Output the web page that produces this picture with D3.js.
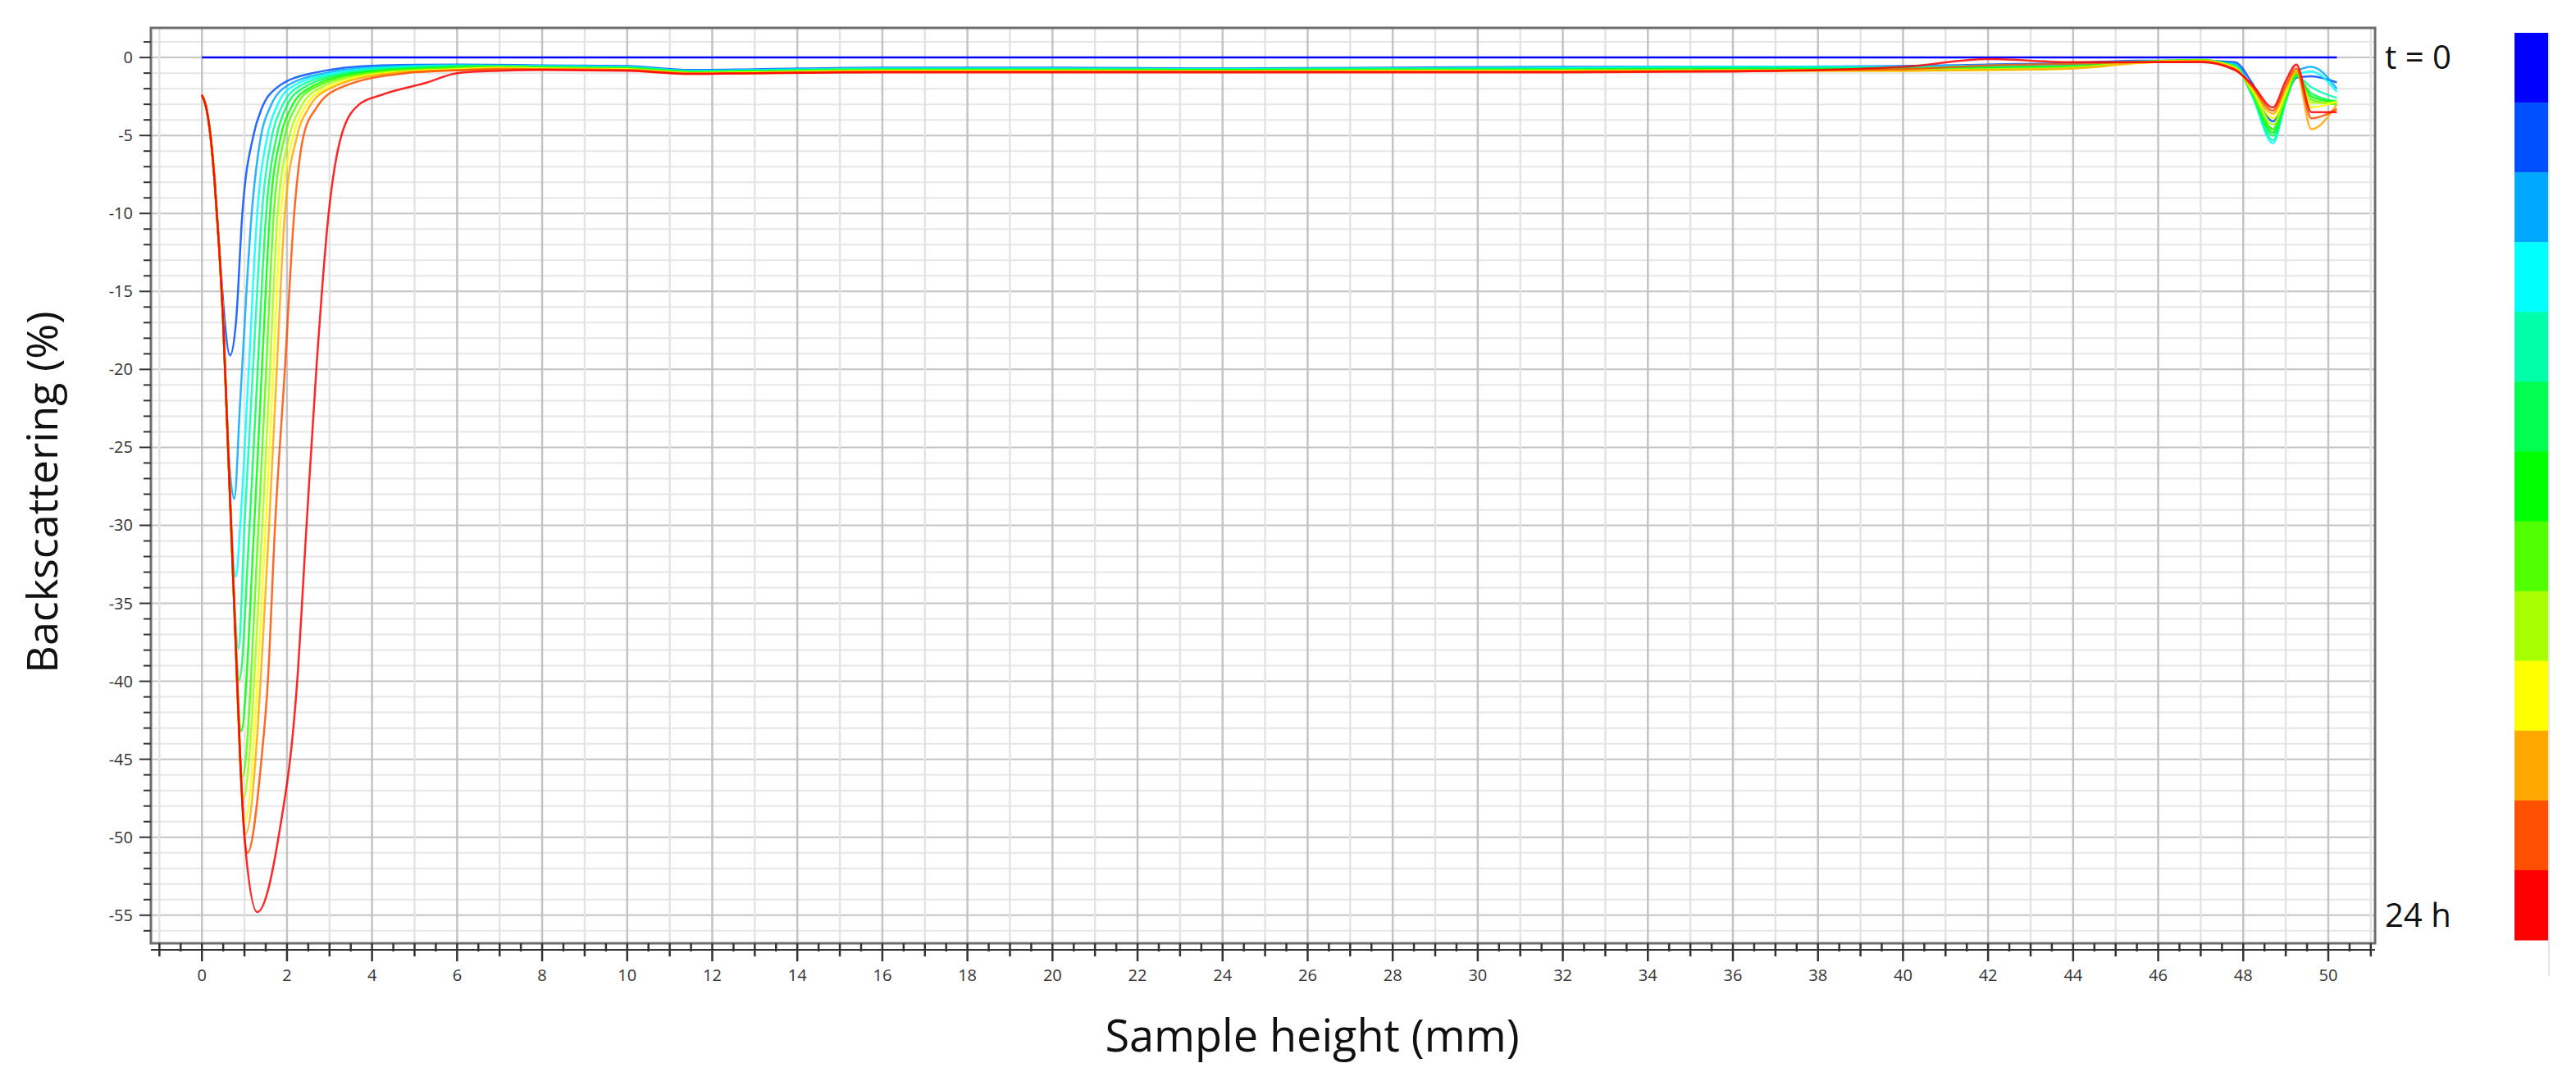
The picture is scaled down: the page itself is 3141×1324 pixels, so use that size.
<!DOCTYPE html>
<html>
<head>
<meta charset="utf-8">
<script src="https://cdn.jsdelivr.net/npm/d3@7"></script>
<style>
  body { margin: 0; background: #fff; }
  svg { display: block; font-family: "Open Sans", sans-serif; }
</style>
</head>
<body>
<svg id="chart" width="3141" height="1324"></svg>
<script>
// colours of the 13 scans, t = 0 first, 24 h last
var scanColors = ["#0000ff", "#0050ff", "#00a8ff", "#00ffff", "#00ffa8", "#00ff50",
                  "#00ff00", "#50ff00", "#a8ff00", "#ffff00", "#ffa800", "#ff5000", "#ff0000"];

// left flank shared by all curves near the bottom of the tube
var leftEdge = [[0, -2.4], [0.1, -3.2], [0.2, -5], [0.3, -8], [0.4, -12], [0.5, -17],
                [0.6, -24], [0.7, -31], [0.8, -38], [0.9, -45], [1.0, -50], [1.1, -53]];

// minimum of each curve [x, y]
var minima = [[0.66, -19.1], [0.76, -28.3], [0.8, -33.3], [0.86, -37.9], [0.88, -39.9], [0.92, -43.2],
              [0.95, -46.1], [0.97, -47.5], [1.0, -49.0], [1.02, -49.8], [1.07, -51.0], [1.3, -54.8]];

// right flank of each curve
var rightSides = [
  [[0.8, -17], [0.95, -10], [1.21, -5], [1.4, -3.3], [1.73, -2], [2.6, -1], [4.2, -0.5], [6, -0.45]],
  [[0.9, -22], [1.17, -10], [1.39, -5], [1.6, -3.2], [1.9, -2], [2.9, -1], [4.5, -0.55], [6, -0.5]],
  [[0.9, -30], [1.1, -20], [1.3, -10], [1.54, -5], [1.75, -3.2], [2.05, -2], [3.1, -1], [4.7, -0.6], [6, -0.5]],
  [[1.0, -30], [1.2, -20], [1.41, -10], [1.65, -5], [1.87, -3.2], [2.2, -2], [3.3, -1], [5, -0.6], [6.5, -0.55]],
  [[1.12, -30], [1.31, -20], [1.51, -10], [1.76, -5], [1.98, -3.2], [2.35, -2], [3.5, -1], [5.2, -0.65], [6.5, -0.55]],
  [[1.23, -30], [1.41, -20], [1.6, -10], [1.86, -5], [2.1, -3.2], [2.5, -2], [3.7, -1], [5.4, -0.7], [7, -0.6]],
  [[1.33, -30], [1.51, -20], [1.69, -10], [1.95, -5], [2.2, -3.2], [2.6, -2], [3.9, -1], [5.6, -0.7], [7, -0.6]],
  [[1.42, -30], [1.6, -20], [1.78, -10], [2.06, -5], [2.32, -3.2], [2.75, -2], [4.1, -1], [5.8, -0.75], [7, -0.65]],
  [[1.5, -30], [1.68, -20], [1.86, -10], [2.15, -5], [2.42, -3.2], [2.9, -2], [4.3, -1], [6, -0.75], [7, -0.65]],
  [[1.58, -30], [1.76, -20], [1.95, -10], [2.24, -5], [2.52, -3.2], [3.0, -2], [4.5, -1], [6, -0.8], [7, -0.7]],
  [[1.4, -45], [1.55, -40], [1.72, -30], [1.95, -20], [2.17, -10], [2.39, -5], [2.7, -3.2], [3.2, -2], [4.8, -1], [6.2, -0.8], [7, -0.75]],
  [[1.8, -50], [2.24, -40], [2.46, -30], [2.69, -20], [2.98, -10], [3.28, -5], [3.7, -3], [4.22, -2.4], [5.3, -1.6], [6.0, -1], [7, -0.85]]
];

// plateau and top-of-sample region, shared x grid
var tailX = [8, 10, 11.5, 13, 16, 20, 24, 28, 32, 36, 40, 42, 44, 45.5, 47, 47.8, 48.2, 48.7, 49.0, 49.25, 49.6, 50.2];
var tails = [
  [-0.5, -0.55, -0.8, -0.75, -0.65, -0.65, -0.7, -0.65, -0.6, -0.6, -0.55, -0.45, -0.35, -0.2, -0.2, -0.3, -1.6, -4.1, -2.6, -1.3, -1.2, -1.6],
  [-0.55, -0.6, -0.85, -0.8, -0.7, -0.7, -0.7, -0.7, -0.65, -0.6, -0.6, -0.5, -0.4, -0.25, -0.25, -0.4, -2.0, -4.6, -2.2, -0.9, -0.6, -2.0],
  [-0.55, -0.6, -0.85, -0.8, -0.7, -0.7, -0.75, -0.7, -0.65, -0.6, -0.6, -0.5, -0.45, -0.3, -0.3, -0.5, -2.4, -5.5, -2.8, -1.1, -0.9, -2.2],
  [-0.6, -0.65, -0.9, -0.85, -0.75, -0.75, -0.75, -0.7, -0.7, -0.65, -0.65, -0.6, -0.5, -0.25, -0.2, -0.5, -2.3, -5.3, -2.8, -1.2, -1.9, -2.6],
  [-0.6, -0.65, -0.9, -0.85, -0.75, -0.75, -0.8, -0.75, -0.75, -0.7, -0.7, -0.65, -0.55, -0.3, -0.2, -0.55, -2.3, -5.0, -2.7, -1.2, -2.3, -2.8],
  [-0.65, -0.7, -0.95, -0.9, -0.8, -0.8, -0.8, -0.8, -0.8, -0.75, -0.75, -0.7, -0.6, -0.3, -0.15, -0.6, -2.2, -4.8, -2.6, -1.1, -2.5, -2.9],
  [-0.65, -0.7, -0.95, -0.9, -0.8, -0.8, -0.85, -0.8, -0.8, -0.8, -0.8, -0.75, -0.6, -0.3, -0.15, -0.6, -2.2, -4.6, -2.5, -1.0, -2.7, -3.0],
  [-0.7, -0.75, -1.0, -0.95, -0.85, -0.85, -0.85, -0.85, -0.85, -0.8, -0.8, -0.75, -0.65, -0.3, -0.2, -0.65, -2.1, -4.3, -2.4, -0.9, -2.9, -2.9],
  [-0.7, -0.75, -1.0, -0.95, -0.85, -0.85, -0.9, -0.85, -0.85, -0.85, -0.85, -0.8, -0.7, -0.35, -0.2, -0.65, -2.0, -3.9, -2.2, -0.8, -3.2, -2.8],
  [-0.75, -0.8, -1.0, -1.0, -0.9, -0.9, -0.9, -0.9, -0.9, -0.85, -0.85, -0.8, -0.7, -0.35, -0.2, -0.7, -1.9, -3.6, -2.0, -0.9, -4.6, -3.0],
  [-0.75, -0.8, -1.05, -1.0, -0.9, -0.9, -0.9, -0.9, -0.9, -0.85, -0.75, -0.5, -0.4, -0.3, -0.25, -0.75, -1.8, -3.4, -1.8, -0.7, -3.9, -3.3],
  [-0.8, -0.85, -1.05, -1.0, -0.95, -0.95, -0.95, -0.95, -0.95, -0.9, -0.6, -0.1, -0.3, -0.3, -0.3, -0.8, -1.7, -3.2, -1.5, -0.45, -3.5, -3.5]
];

// reference scan t = 0
var baseline = [[0, 0], [50.2, 0]];

var svg = d3.select("#chart");
var margin = {top: 34, right: 245, bottom: 174, left: 184},
    W = 3141 - margin.left - margin.right,
    H = 1324 - margin.top - margin.bottom;

var x = d3.scaleLinear().domain([-1.2, 51.1]).range([0, W]);
var y = d3.scaleLinear().domain([-56.8, 1.9]).range([H, 0]);

var g = svg.append("g").attr("transform", "translate(" + margin.left + "," + margin.top + ")");

// grid
g.selectAll(".hg").data(d3.range(-56, 2, 1)).enter().append("line")
  .attr("x1", 0).attr("x2", W)
  .attr("y1", function(d) { return y(d); }).attr("y2", function(d) { return y(d); })
  .attr("stroke", function(d) { return d % 5 === 0 ? "#c4c4c4" : "#e6e6e6"; })
  .attr("stroke-width", 2);
g.selectAll(".vg").data(d3.range(-1, 52, 1)).enter().append("line")
  .attr("y1", 0).attr("y2", H)
  .attr("x1", function(d) { return x(d); }).attr("x2", function(d) { return x(d); })
  .attr("stroke", function(d) { return d % 2 === 0 ? "#c4c4c4" : "#e4e4e4"; })
  .attr("stroke-width", 2.5);

// curves
var line = d3.line().x(function(d) { return x(d[0]); }).y(function(d) { return y(d[1]); })
  .curve(d3.curveMonotoneX);

var curves = minima.map(function(m, i) {
  var left = leftEdge.filter(function(p) { return p[0] < m[0] && p[1] > m[1] + 4; });
  var tail = tailX.map(function(tx, j) { return [tx, tails[i][j]]; });
  return left.concat([m], rightSides[i], tail);
});

g.append("path").attr("d", line(baseline)).attr("fill", "none")
  .attr("stroke", scanColors[0]).attr("stroke-width", 2.5);

g.selectAll(".scan").data(curves).enter().append("path")
  .attr("d", line).attr("fill", "none")
  .attr("stroke", function(d, i) { return scanColors[i + 1]; })
  .attr("stroke-width", 2.5).attr("opacity", 0.85);

// frame
g.append("rect").attr("width", W).attr("height", H)
  .attr("fill", "none").attr("stroke", "#6e6e6e").attr("stroke-width", 3);

// y ticks
g.selectAll(".yt").data(d3.range(-56, 2, 1)).enter().append("line")
  .attr("x1", function(d) { return d % 5 === 0 ? -14 : -9; }).attr("x2", 0)
  .attr("y1", function(d) { return y(d); }).attr("y2", function(d) { return y(d); })
  .attr("stroke", "#333").attr("stroke-width", 2);
g.selectAll(".yl").data(d3.range(-55, 1, 5)).enter().append("text")
  .attr("x", -22).attr("y", function(d) { return y(d) + 7; })
  .attr("text-anchor", "end").attr("font-size", 20).attr("fill", "#333")
  .text(function(d) { return d; });

// x ticks
g.selectAll(".xt").data(d3.range(-1, 51.5, 0.5)).enter().append("line")
  .attr("x1", function(d) { return x(d); }).attr("x2", function(d) { return x(d); })
  .attr("y1", H).attr("y2", function(d) { return H + (d % 2 === 0 ? 22 : (d % 1 === 0 ? 16 : 10)); })
  .attr("stroke", "#333").attr("stroke-width", 2.5);
g.append("line").attr("x1", 0).attr("x2", W).attr("y1", H + 8).attr("y2", H + 8)
  .attr("stroke", "#333").attr("stroke-width", 2);
g.selectAll(".xl").data(d3.range(0, 51, 2)).enter().append("text")
  .attr("x", function(d) { return x(d); }).attr("y", H + 46)
  .attr("text-anchor", "middle").attr("font-size", 20).attr("fill", "#333")
  .text(function(d) { return d; });

// axis titles
svg.append("text").attr("transform", "translate(70,600) rotate(-90)")
  .attr("text-anchor", "middle").attr("font-size", 52).attr("fill", "#111")
  .text("Backscattering (%)");
svg.append("text").attr("x", 1600).attr("y", 1282)
  .attr("text-anchor", "middle").attr("font-size", 54).attr("fill", "#111")
  .text("Sample height (mm)");

// colour bar
var bar = d3.scaleBand().domain(d3.range(scanColors.length)).range([40, 1146]);
svg.selectAll(".cb").data(scanColors).enter().append("rect")
  .attr("x", 3066).attr("width", 42)
  .attr("y", function(d, i) { return bar(i); }).attr("height", bar.bandwidth() + 0.5)
  .attr("fill", function(d) { return d; });
svg.append("line").attr("x1", 3108).attr("x2", 3108).attr("y1", 40).attr("y2", 1190)
  .attr("stroke", "#e4e4ee").attr("stroke-width", 2);
svg.append("text").attr("x", 2908).attr("y", 84).attr("font-size", 40).attr("fill", "#111").text("t = 0");
svg.append("text").attr("x", 2908).attr("y", 1130).attr("font-size", 40).attr("fill", "#111").text("24 h");
</script>
</body>
</html>
